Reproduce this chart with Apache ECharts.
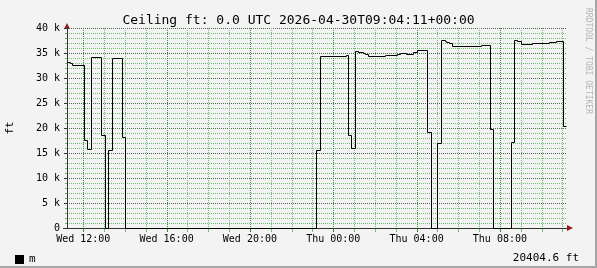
<!DOCTYPE html>
<html><head><meta charset="utf-8">
<script src="https://cdn.jsdelivr.net/npm/echarts@6/dist/echarts.min.js"></script>
<style>html,body{margin:0;padding:0;background:#f3f3f3}#c{width:597px;height:268px}</style>
</head><body><div id="c"></div>
<script>
// Time in hours since Wed 00:00 UTC (values > 24 are Thursday)
const times = [11.22, 11.36, 11.46, 12.03, 12.16, 12.36, 12.84, 13.03, 13.17, 13.36, 13.86, 14.00,
  23.16, 23.36, 24.59, 24.72, 24.85, 25.02, 25.19, 25.43, 25.52, 25.67, 26.48, 26.55, 27.06, 27.20,
  27.51, 27.85, 28.02, 28.51, 28.70, 28.99, 29.19, 29.34, 29.43, 29.55, 29.70, 31.07, 31.52, 31.68,
  32.52, 32.66, 32.84, 33.03, 33.52, 34.37, 34.69, 35.03, 35.17];
// Ceiling in ft
const values = [33300, 33000, 32700, 17600, 15800, 34300, 18600, 0, 15600, 34100, 18300, 0,
  15700, 34500, 34600, 18600, 16100, 35400, 35300, 35000, 34800, 34500, 34600, 34700, 34900, 35100,
  34800, 35200, 35700, 19300, 0, 17100, 37600, 37400, 37200, 37000, 36500, 36700, 19800, 0,
  17300, 37700, 37400, 36900, 37100, 37300, 37500, 20400, 20400];
const xMin = 11.22, xMax = 35.22;
const hourGrid = [12,13,14,15,16,17,18,19,20,21,22,23,24,25,26,27,28,29,30,31,32,33,34,35];
const xTickValues = [12, 16, 20, 24, 28, 32];
const xTickLabels = ['Wed 12:00', 'Wed 16:00', 'Wed 20:00', 'Thu 00:00', 'Thu 04:00', 'Thu 08:00'];
const titleText = 'Ceiling ft: 0.0 UTC 2026-04-30T09:04:11+00:00';
const seriesName = 'm';
const unitName = 'ft';
const lastValueText = '20404.6 ft';
const watermark = 'RRDTOOL / TOBI OETIKER';

const MONO = '"DejaVu Sans Mono", monospace';
const minorC = '#74bc74', majorV = '#3c8a3c', majorH = '#4e6a4e', arrowC = '#9b1b1b';
const G = {left: 67, top: 28, width: 500, height: 200};
const px = v => Math.round(v) + 0.5;

const chart = echarts.init(document.getElementById('c'), null, {renderer: 'canvas'});
chart.setOption({
  animation: false,
  backgroundColor: '#f3f3f3',
  title: {text: titleText, left: 'center', top: 9,
    textStyle: {fontFamily: MONO, fontSize: 13, fontWeight: 'normal', color: '#000'}},
  legend: {data: [seriesName], left: 15, top: 254, padding: 0, icon: 'rect', itemWidth: 9, itemHeight: 9,
    textStyle: {fontFamily: MONO, fontSize: 11, color: '#000'}},
  grid: G,
  xAxis: {type: 'value', min: xMin, max: xMax,
    axisLine: {show: true, lineStyle: {color: '#333', width: 1}},
    axisTick: {show: false},
    axisLabel: {customValues: xTickValues, margin: 6, fontFamily: MONO, fontSize: 10, color: '#000',
      formatter: v => xTickLabels[xTickValues.indexOf(v)] || ''},
    splitLine: {show: false}
  },
  yAxis: {type: 'value', min: 0, max: 40000, interval: 5000,
    axisLine: {show: true, lineStyle: {color: '#333', width: 1}},
    axisTick: {show: true, length: 3, lineStyle: {color: '#333'}},
    minorTick: {show: true, splitNumber: 5, length: 2, lineStyle: {color: '#7ab87a'}},
    axisLabel: {margin: 7, fontFamily: MONO, fontSize: 10, color: '#000',
      formatter: v => v === 0 ? '0' : (v / 1000) + ' k'},
    splitLine: {show: true, lineStyle: {color: majorH, type: [1, 1], width: 1}},
    minorSplitLine: {show: true, lineStyle: {color: minorC, type: [1, 1], width: 1}}
  },
  series: [
    {name: 'hourgrid', type: 'custom', silent: true, z: 1, data: hourGrid.map(h => [h, 0]),
      renderItem: (params, api) => {
        const h = api.value(0);
        const x = px(api.coord([h, 0])[0]);
        const cs = params.coordSys;
        const c = xTickValues.indexOf(h) >= 0 ? majorV : minorC;
        return {type: 'group', children: [
          {type: 'line', shape: {x1: x, y1: cs.y, x2: x, y2: cs.y + cs.height},
            style: {stroke: c, lineWidth: 1, lineDash: [1, 1]}},
          {type: 'line', shape: {x1: x, y1: cs.y + cs.height + 1, x2: x, y2: cs.y + cs.height + 4},
            style: {stroke: c, lineWidth: 1}}
        ]};
      }},
    {name: seriesName, type: 'custom', z: 3, color: '#000', itemStyle: {color: '#000'},
      data: times.map((t, i) => [t, values[i]]),
      renderItem: (params, api) => {
        const i = params.dataIndex;
        if (i >= times.length - 1) return null;
        const p0 = api.coord([times[i], values[i]]);
        const p1 = api.coord([times[i + 1], values[i + 1]]);
        const x0 = px(p0[0]), x1 = px(p1[0]), y0 = px(p0[1]), y1 = px(p1[1]);
        return {type: 'polyline', shape: {points: [[x0, y0], [x1, y0], [x1, y1]]},
          style: {stroke: '#000', fill: 'none', lineWidth: 1}};
      }}
  ],
  graphic: [
    {type: 'text', x: 10, y: 128, rotation: Math.PI / 2,
      style: {text: unitName, font: '11px ' + MONO, fill: '#000', align: 'center', verticalAlign: 'middle'}},
    {type: 'text', x: 579, y: 258,
      style: {text: lastValueText, font: '11px ' + MONO, fill: '#000', align: 'right', verticalAlign: 'middle'}},
    {type: 'text', x: 588, y: 8, rotation: -Math.PI / 2,
      style: {text: watermark, font: '8px ' + MONO, fill: '#b4b4b4', align: 'left', verticalAlign: 'middle'}},
    {type: 'line', shape: {x1: 63, y1: 228.5, x2: 67, y2: 228.5}, style: {stroke: '#333', lineWidth: 1}},
    {type: 'polygon', shape: {points: [[64, 29], [70, 29], [67, 23]]}, style: {fill: arrowC}},
    {type: 'polygon', shape: {points: [[567, 225], [567, 231], [573, 228]]}, style: {fill: arrowC}},
    {type: 'rect', shape: {x: 0, y: 266, width: 597, height: 2}, style: {fill: '#a6a6a6'}},
    {type: 'rect', shape: {x: 595, y: 0, width: 2, height: 268}, style: {fill: '#a6a6a6'}}
  ]
});
</script></body></html>
